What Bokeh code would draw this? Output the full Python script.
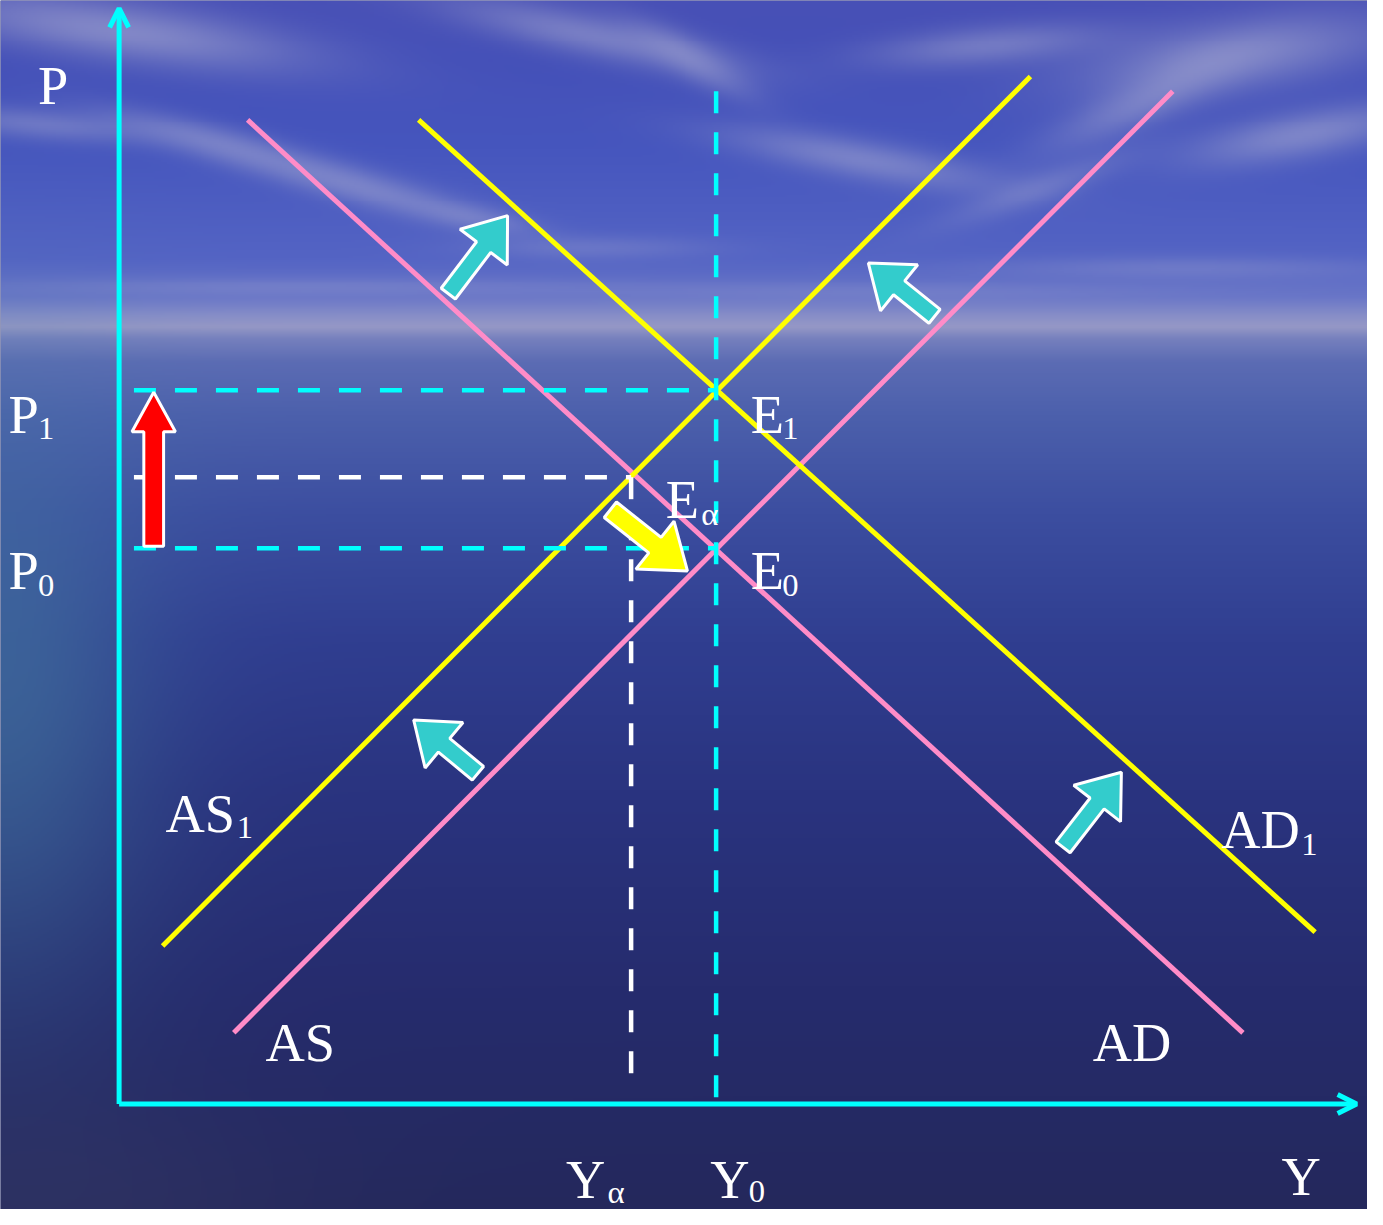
import numpy as np
from bokeh.plotting import figure
from bokeh.models import Arrow, OpenHead, Range1d, ColumnDataSource
from bokeh.core.properties import value
from bokeh.embed import file_html
from bokeh.resources import INLINE

# ---------------- data (abstract model units) ----------------
Y0 = 6.04        # initial output
Y_alpha = 5.18   # output at E_alpha
P1 = 7.23        # new price level
P0 = 5.63        # initial price level
P_alpha = 6.35   # price at E_alpha

AD_x = [1.30, 11.37]
AD_y = [9.97, 0.72]
AS_x = [1.16, 10.66]
AS_y = [0.72, 10.26]
AD1_x = [3.03, 12.10]
AD1_y = [9.97, 1.74]
AS1_x = [0.44, 9.22]
AS1_y = [1.60, 10.41]

X_AXIS_END = 12.52
Y_AXIS_END = 11.10

# shift arrows: (tail x, tail y, tip x, tip y)
cyan_arrows = [
    (3.33, 8.21, 3.93, 9.00),
    (8.25, 7.98, 7.58, 8.52),
    (3.63, 3.35, 2.98, 3.89),
    (9.55, 2.60, 10.14, 3.36),
]
yellow_arrow = (4.97, 6.02, 5.75, 5.40)
red_arrow = (0.35, 5.65, 0.35, 7.21)

# ---------------- page ----------------
W_FIG, H_FIG = 1367, 1209
S = W_FIG / 1383.0
XR = (-1.20, 12.63)
YR = (-1.07, 11.18)

p = figure(width=W_FIG, height=H_FIG, x_range=Range1d(*XR), y_range=Range1d(*YR),
           output_backend="svg", toolbar_location=None, min_border=0,
           x_axis_type=None, y_axis_type=None)
p.grid.visible = False
p.outline_line_color = None
p.background_fill_color = "#2a3070"
p.border_fill_color = "#2a3070"

# ---------------- background: sky & sea gradient ----------------
H, W = 612, 692
py = np.linspace(0, 1225, H)[:, None] * np.ones((1, W))
px = np.ones((H, 1)) * np.linspace(0, 1383, W)[None, :]
ky = [0, 60, 150, 260, 300, 318, 330, 342, 365, 420, 520, 650, 800, 1000, 1225]
kc = np.array([
    [72, 80, 182], [68, 80, 184], [70, 86, 190], [84, 100, 196],
    [104, 117, 199], [134, 141, 200], [150, 152, 198], [118, 128, 190],
    [92, 108, 180], [76, 96, 172], [60, 78, 160], [48, 62, 144],
    [42, 52, 128], [38, 44, 110], [36, 40, 92]], dtype=float)
rgb = np.stack([np.interp(py, ky, kc[:, i]) for i in range(3)], axis=-1)

cloud = np.array([170, 172, 210], dtype=float)
# (cx, cy, sx, sy, angle_deg, strength)
blobs = [
    (120, 30, 190, 30, 8, 0.60), (600, 35, 150, 22, 12, 0.50),
    (700, 60, 70, 18, 30, 0.40),
    (1000, 45, 120, 20, -5, 0.45), (1250, 55, 160, 35, -8, 0.55),
    (1320, 135, 120, 24, -10, 0.55), (1160, 100, 110, 24, -25, 0.45),
    (870, 160, 140, 20, 10, 0.50), (1050, 190, 100, 16, -20, 0.30),
    (40, 125, 110, 16, 5, 0.40), (220, 145, 120, 18, 15, 0.45),
    (370, 190, 120, 18, 15, 0.45), (480, 220, 60, 12, 10, 0.30),
    (600, 250, 120, 12, 0, 0.25), (1200, 270, 200, 12, 0, 0.25),
    (300, 290, 300, 10, 0, 0.22), (900, 295, 300, 10, 0, 0.18),
]
for cx, cy, sx, sy, ang, st in blobs:
    a = np.deg2rad(ang)
    u = (px - cx) * np.cos(a) + (py - cy) * np.sin(a)
    v = -(px - cx) * np.sin(a) + (py - cy) * np.cos(a)
    g = st * np.exp(-((u / sx) ** 2 + (v / sy) ** 2))
    rgb = rgb * (1 - g[..., None]) + cloud * g[..., None]

teal = np.array([70, 128, 162], dtype=float)
g = 0.55 * np.exp(-(((px - 0) / 150) ** 2 + ((py - 700) / 300) ** 2))
rgb = rgb * (1 - g[..., None]) + teal * g[..., None]
grey = np.array([60, 62, 105], dtype=float)
g = 0.35 * np.exp(-(((px - 60) / 250) ** 2 + ((py - 1225) / 120) ** 2))
rgb = rgb * (1 - g[..., None]) + grey * g[..., None]

img = np.empty((H, W), dtype=np.uint32)
view = img.view(dtype=np.uint8).reshape((H, W, 4))
view[..., :3] = np.clip(rgb, 0, 255).astype(np.uint8)
view[..., 3] = 255
img = np.flipud(img).copy()
p.image_rgba(image=[img], x=XR[0], y=YR[0], dw=XR[1] - XR[0], dh=YR[1] - YR[0])

# ---------------- curves ----------------
PINK = "#ff8cc8"
YELLOW = "#ffff00"
CYAN = "#00ffff"
LW = 5

p.line(AD_x, AD_y, line_color=PINK, line_width=LW)
p.line(AS_x, AS_y, line_color=PINK, line_width=LW)
p.line(AD1_x, AD1_y, line_color=YELLOW, line_width=LW)
p.line(AS1_x, AS1_y, line_color=YELLOW, line_width=LW)

# ---------------- dashed guides ----------------
DASH = "22 19"
DW = 4.5
x_left = 0.15
p.line([x_left, Y0], [P1, P1], line_color=CYAN, line_width=DW, line_dash=DASH)
p.line([x_left, Y0], [P0, P0], line_color=CYAN, line_width=DW, line_dash=DASH)
p.line([x_left, Y_alpha], [P_alpha, P_alpha], line_color="white", line_width=DW, line_dash=DASH)
p.line([Y_alpha, Y_alpha], [P_alpha, 0.13], line_color="white", line_width=DW, line_dash=DASH)
p.line([Y0, Y0], [10.26, 0.0], line_color=CYAN, line_width=DW, line_dash=DASH)

# ---------------- axes with arrow heads ----------------
p.add_layout(Arrow(end=OpenHead(size=19, line_color=CYAN, line_width=5),
                   x_start=0, y_start=0, x_end=0, y_end=Y_AXIS_END,
                   line_color=CYAN, line_width=5))
p.add_layout(Arrow(end=OpenHead(size=19, line_color=CYAN, line_width=5),
                   x_start=0, y_start=0, x_end=X_AXIS_END, y_end=0,
                   line_color=CYAN, line_width=5))

# ---------------- block arrows ----------------
def block_arrow(tx, ty, hx, hy, w, hw, hl):
    d = np.array([hx - tx, hy - ty])
    L = np.hypot(*d)
    d = d / L
    n = np.array([-d[1], d[0]])
    t = np.array([tx, ty])
    b = t + d * (L - hl)
    pts = [t + n * w, b + n * w, b + n * hw, np.array([hx, hy]),
           b - n * hw, b - n * w, t - n * w]
    return [q[0] for q in pts], [q[1] for q in pts]

xs, ys = [], []
for a in cyan_arrows:
    ax_, ay_ = block_arrow(*a, w=0.09, hw=0.30, hl=0.40)
    xs.append(ax_); ys.append(ay_)
p.patches(xs, ys, fill_color="#33cccc", line_color="white", line_width=3)

ax_, ay_ = block_arrow(*yellow_arrow, w=0.10, hw=0.31, hl=0.42)
p.patch(ax_, ay_, fill_color=YELLOW, line_color="white", line_width=3)

ax_, ay_ = block_arrow(*red_arrow, w=0.10, hw=0.22, hl=0.40)
p.patch(ax_, ay_, fill_color="#ff0000", line_color="white", line_width=3)

# ---------------- labels ----------------
FONT = value("Liberation Serif")
main = ColumnDataSource(dict(
    x=[-0.82, -1.12, -1.12, Y0 + 0.35, Y_alpha + 0.35, Y0 + 0.35,
       Y_alpha - 0.66, Y0 - 0.06, 11.76, 0.47, 1.48, 9.85, 11.15],
    y=[10.31, P1 - 0.25, P0 - 0.23, P1 - 0.25, P_alpha - 0.23, P0 - 0.23,
       -0.77, -0.77, -0.74, 2.94, 0.62, 0.62, 2.78],
    text=["P", "P", "P", "E", "E", "E", "Y", "Y", "Y", "AS", "AS", "AD", "AD"],
))
sub = ColumnDataSource(dict(
    x=[-0.82, -0.82, Y0 + 0.67, Y_alpha + 0.71, Y0 + 0.67,
       Y_alpha - 0.24, Y0 + 0.33, 1.19, 11.96],
    y=[P1 - 0.39, P0 - 0.38, P1 - 0.39, P_alpha - 0.37, P0 - 0.38,
       -0.89, -0.89, 2.80, 2.63],
    text=["1", "0", "1", "α", "0", "α", "0", "1", "1"],
))
p.text(x="x", y="y", text="text", source=main, text_font=FONT,
       text_font_size=value(f"{55 * S:.1f}px"), text_color="white",
       text_align="left", text_baseline="alphabetic")
p.text(x="x", y="y", text="text", source=sub, text_font=FONT,
       text_font_size=value(f"{33 * S:.1f}px"), text_color="white",
       text_align="left", text_baseline="alphabetic")

open("out.html", "w").write(file_html(p, INLINE))
